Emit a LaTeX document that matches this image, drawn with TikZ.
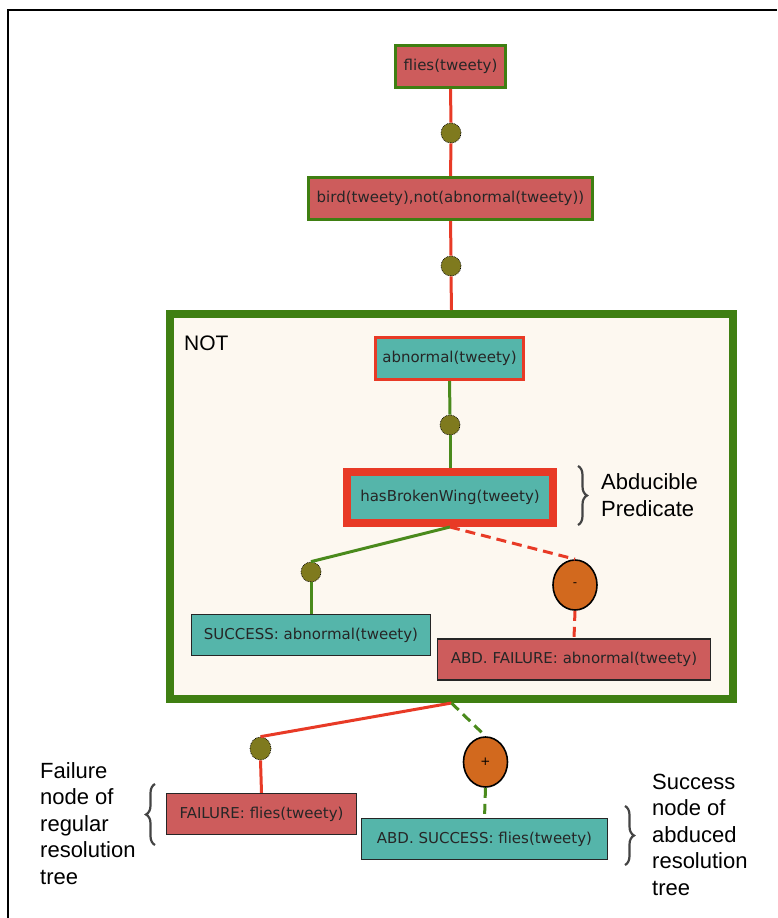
\documentclass[tikz,border=0pt]{standalone}
\usepackage{fontspec}
\setmainfont{Liberation Sans}
\newfontfamily\treefont{DejaVu Sans}
\usepackage{xcolor}
\usepackage{tikz}
\usetikzlibrary{arrows.meta,positioning,shapes.geometric,decorations.pathreplacing}

\definecolor{goalred}{HTML}{CD5C5C}
\definecolor{goalteal}{HTML}{55B5AA}
\definecolor{framegreen}{HTML}{3F7F12}
\definecolor{linkred}{HTML}{E83A26}
\definecolor{linkgreen}{HTML}{4A8A1C}
\definecolor{dotolive}{HTML}{7F7A1E}
\definecolor{dotorange}{HTML}{D2691E}
\definecolor{notfill}{HTML}{FDF8F0}
\definecolor{bracegray}{HTML}{444444}

\newcommand{\treetext}{\treefont\fontsize{15}{17}\selectfont}
\newcommand{\notetext}{\fontsize{22}{26.5}\selectfont}

\begin{document}
\begin{tikzpicture}[x=1pt, y=-1pt,
  goal/.style={rectangle, inner sep=0pt, font=\treetext, text=black!85,
    minimum height=42pt},
  goalgreen/.style={goal, draw=framegreen, line width=3pt, fill=goalred},
  goalabd/.style={goal, draw=linkred, line width=3pt, fill=goalteal},
  leafbox/.style={goal, draw=black!85, line width=1.3pt, minimum height=41pt},
  choice/.style={circle, draw=black, densely dotted, line width=0.7pt,
    fill=dotolive, minimum size=20pt, inner sep=0pt},
  abdchoice/.style={ellipse, draw=black, line width=1.6pt, fill=dotorange,
    minimum width=44pt, minimum height=50pt, inner sep=0pt,
    font=\treefont\fontsize{12}{12}\selectfont},
  redlink/.style={draw=linkred, line width=3pt},
  greenlink/.style={draw=linkgreen, line width=3pt},
  dashlink/.style={dash pattern=on 10pt off 6pt},
  note/.style={font=\notetext, align=left, anchor=west, inner sep=0pt},
  notebrace/.style={draw=bracegray, line width=2.2pt,
    decorate, decoration={brace, amplitude=9pt}}]
  \useasboundingbox (0,0) rectangle (777,918);
  \draw[line width=1.5pt] (8,918) -- (8,10) -- (777,10);

  % negation frame
  \node (notbox) [rectangle, draw=framegreen, line width=8pt, fill=notfill,
    minimum width=563pt, minimum height=385pt] at (451.5,506.5) {};
  \node (nottag) [font=\fontsize{21}{21}\selectfont, anchor=base west,
    inner sep=0pt] at (184,350) {NOT};

  % goals
  \node (flies) [goalgreen, minimum width=110pt] at (450.5,66.5) {flies(tweety)};
  \node (bird) [goalgreen, minimum width=284pt] at (450.5,198.5)
    {bird(tweety),not(abnormal(tweety))};
  \node (abnormal) [goalabd, minimum width=148pt] at (449.5,358.5)
    {abnormal(tweety)};
  \node (broken) [goal, draw=linkred, line width=8pt, fill=goalteal,
    minimum width=206pt, minimum height=51pt] at (450,497.5)
    {hasBrokenWing(tweety)};
  \node (success) [leafbox, fill=goalteal, minimum width=239pt] at (311,635)
    {SUCCESS: abnormal(tweety)};
  \node (abdfail) [leafbox, fill=goalred, minimum width=273pt] at (574,659.5)
    {ABD. FAILURE: abnormal(tweety)};
  \node (failure) [leafbox, fill=goalred, minimum width=190pt] at (261.5,814)
    {FAILURE: flies(tweety)};
  \node (abdsucc) [leafbox, fill=goalteal, minimum width=246pt] at (484.5,839)
    {ABD. SUCCESS: flies(tweety)};

  % choice points
  \node (c1) [choice] at (451,133) {};
  \node (c2) [choice] at (451,266) {};
  \node (c3) [choice] at (450,425) {};
  \node (c4) [choice] at (311,572) {};
  \node (c5) [choice, minimum width=21pt, minimum height=23pt, ellipse]
    at (260.5,748.5) {};
  \node (minus) [abdchoice] at (575,585) {-};
  \node (plus) [abdchoice] at (485.5,762) {+};

  % links
  \draw[redlink] (flies.south) -- (c1.north);
  \draw[redlink] (c1.south) -- (bird.north);
  \draw[redlink] (bird.south) -- (c2.north);
  \draw[redlink] (c2.south) -- (notbox.north);
  \draw[greenlink] (abnormal.south) -- (c3.north);
  \draw[greenlink] (c3.south) -- (broken.north);
  \draw[greenlink] (broken.south) -- (c4.north);
  \draw[greenlink] (c4.south) -- (success.north);
  \draw[redlink, dashlink] (broken.south) -- (minus.north);
  \draw[redlink, dashlink] (minus.south) -- (abdfail.north);
  \draw[redlink] (notbox.south) -- (c5.north);
  \draw[redlink] (c5.south) -- (failure.north);
  \draw[greenlink, dashlink] (notbox.south) -- (plus.north);
  \draw[greenlink, dashlink] (plus.south) -- (abdsucc.north);

  % notes
  \draw[notebrace] (578,466) -- (578,525);
  \node (abdnote) [note] at (601,495) {Abducible\\Predicate};
  \draw[notebrace] (155,845) -- (155,784);
  \node (failnote) [note] at (40,823.5) {Failure\\node of\\regular\\resolution\\tree};
  \draw[notebrace] (625,806) -- (625,865);
  \node (succnote) [note] at (652,834.5) {Success\\node of\\abduced\\resolution\\tree};
\end{tikzpicture}
\end{document}
